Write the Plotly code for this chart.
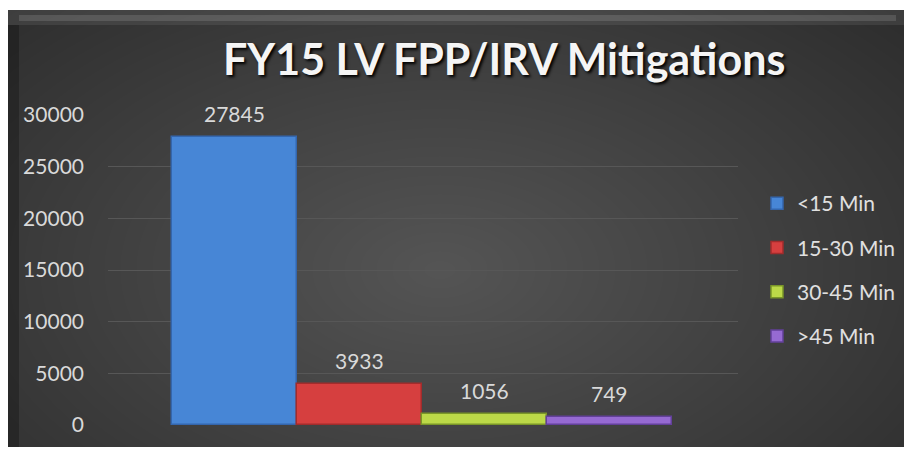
import plotly.graph_objects as go

categories = ["<15 Min", "15-30 Min", "30-45 Min", ">45 Min"]
values = [27845, 3933, 1056, 749]
colors = ["#4786d6", "#d63f3f", "#bcd948", "#966ad2"]
line_colors = ["#3466ad", "#a22c2c", "#7a9628", "#63409a"]
y_ticks = [0, 5000, 10000, 15000, 20000, 25000, 30000]
title_text = "FY15 LV FPP/IRV Mitigations"

# page body margin offset (browser default 8px)
OFF = 8
W, H = 912 - OFF, 449 - OFF
# plot area in reference-image pixels
RL, RR, RT, RB = 108, 738, 115, 425
L, R, T, B = RL - OFF, RR - OFF, RT - OFF, RB - OFF


def px(x):
    return (x - RL) / (RR - RL)


def py(y):
    return (RB - y) / (RB - RT)


FONT = "Lato, Carlito, sans-serif"

fig = go.Figure()
for i, (c, v) in enumerate(zip(categories, values)):
    fig.add_trace(go.Bar(
        x=[c], y=[v], name=c, width=[1],
        marker=dict(color=colors[i], line=dict(color=line_colors[i], width=1.5)),
        legendgroup=c, showlegend=True,
    ))

shapes = []
x0, x1, y0, y1 = 7, 908, 10, 447
shapes.append(dict(type="rect", xref="paper", yref="paper", layer="below",
                   x0=px(x0), x1=px(x1), y0=py(y1), y1=py(y0),
                   fillcolor="#2c2c2c", line=dict(width=0)))
# radial-ish glow (overflow falls on white paper and is invisible)
cx, cy = 440, 270
rx, ry = 640, 380
n = 40
for k in range(n):
    f = 1 - k / n
    shapes.append(dict(type="circle", xref="paper", yref="paper", layer="below",
                       x0=px(cx - rx * f), x1=px(cx + rx * f),
                       y0=py(cy + ry * f), y1=py(cy - ry * f),
                       fillcolor="rgba(255,255,255,0.0075)", line=dict(width=0)))
# white mask around the panel (top strip and right strip)
shapes.append(dict(type="rect", xref="paper", yref="paper", layer="below",
                   x0=px(0), x1=px(920), y0=py(y0), y1=py(-20),
                   fillcolor="white", line=dict(width=0)))
shapes.append(dict(type="rect", xref="paper", yref="paper", layer="below",
                   x0=px(x1), x1=px(930), y0=py(460), y1=py(-20),
                   fillcolor="white", line=dict(width=0)))
# top bevel band
shapes.append(dict(type="rect", xref="paper", yref="paper", layer="below",
                   x0=px(x0), x1=px(x1), y0=py(25), y1=py(10),
                   fillcolor="rgba(255,255,255,0.08)", line=dict(width=0)))
shapes.append(dict(type="rect", xref="paper", yref="paper", layer="below",
                   x0=px(x0 + 12), x1=px(x1 - 12), y0=py(21), y1=py(15),
                   fillcolor="rgba(255,255,255,0.12)", line=dict(width=0)))
# left dark edge
shapes.append(dict(type="rect", xref="paper", yref="paper", layer="below",
                   x0=px(x0), x1=px(x0 + 12), y0=py(y1), y1=py(25),
                   fillcolor="rgba(0,0,0,0.25)", line=dict(width=0)))

annotations = [dict(x=c, y=v, text=str(v), showarrow=False, yanchor="middle",
                    yshift=24, font=dict(family=FONT, size=21, color="#d9d9d9"))
               for c, v in zip(categories, values)]
annotations.append(dict(xref="paper", yref="paper", x=px(504), y=py(58), text=title_text,
                        showarrow=False, xanchor="center", yanchor="middle",
                        font=dict(family=FONT, size=43, color="#f5f5f5",
                                  weight="bold", shadow="2px 2px 3px #000000")))

fig.update_layout(
    width=W, height=H,
    margin=dict(l=L, r=W - R, t=T, b=H - B, pad=0),
    paper_bgcolor="white", plot_bgcolor="rgba(0,0,0,0)",
    barmode="overlay", bargap=0,
    shapes=shapes, annotations=annotations,
    showlegend=True,
    legend=dict(x=px(757), y=py(270), xanchor="left", yanchor="middle",
                font=dict(family=FONT, size=21, color="#e0e0e0"),
                bgcolor="rgba(0,0,0,0)", tracegroupgap=14, itemwidth=30),
    xaxis=dict(type="category", range=[-1.012, 4.028], showticklabels=False,
               showgrid=False, zeroline=False, showline=False, ticks=""),
    yaxis=dict(range=[0, 30000], tickvals=y_ticks, ticktext=[str(t) for t in y_ticks],
               showgrid=True, gridcolor="#575757", gridwidth=1, zeroline=False,
               showline=False, ticks="", ticklabelstandoff=23,
               tickfont=dict(family=FONT, size=21, color="#d9d9d9")),
)

fig.write_html("out.html")
